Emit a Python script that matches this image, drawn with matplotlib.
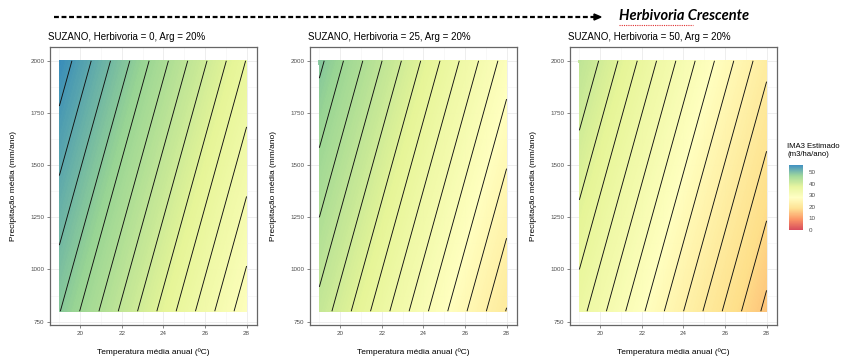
import numpy as np
import matplotlib
matplotlib.use('Agg')
import matplotlib.pyplot as plt
from matplotlib.colors import LinearSegmentedColormap
from matplotlib.lines import Line2D

plt.rcParams['font.family'] = ['Liberation Sans', 'DejaVu Sans']

# Grade lida nos cantos de cada painel (valores estimados da figura)
temperatura = [19, 28]          # ºC
precipitacao = [800, 2000]      # mm/ano
herbivoria = [0, 25, 50]
# IMA3 estimado: linhas = precipitacao, colunas = temperatura
ima3_h0 = [[48.1, 28.7], [55.3, 35.9]]
ima3_h25 = [[41.3, 21.9], [48.5, 29.1]]
ima3_h50 = [[34.8, 15.4], [42.0, 22.6]]
paineis = [ima3_h0, ima3_h25, ima3_h50]

escala_lim = [0, 56]
escala_ticks = [0, 10, 20, 30, 40, 50]
niveis_contorno = np.arange(0, 62, 2)

# paleta Spectral (7 cores, como no scale_fill_distiller)
spectral7 = ['#D53E4F', '#FC8D59', '#FEE08B', '#FFFFBF', '#E6F598', '#99D594', '#3288BD']
cmap = LinearSegmentedColormap.from_list('spec7', spectral7)

fig = plt.figure(figsize=(8.44, 3.58), dpi=100)

lefts = [50, 310, 570]
X, Y = np.meshgrid(temperatura, precipitacao)
cinza = '#4D4D4D'

for i, (l, z, h) in enumerate(zip(lefts, paineis, herbivoria)):
    ax = fig.add_axes([l / 844, 1 - 325 / 358, 207 / 844, 278 / 358])
    Z = np.array(z)
    cf = ax.contourf(X, Y, Z, levels=np.linspace(escala_lim[0], escala_lim[1], 400),
                     cmap=cmap, vmin=escala_lim[0], vmax=escala_lim[1], alpha=0.92, zorder=2)
    cf.set_edgecolor('face')
    cf.set_linewidth(0.3)
    ax.contour(X, Y, Z, levels=niveis_contorno, colors='#111111', linewidths=0.65, zorder=3)

    ax.set_xlim(18.55, 28.5)
    ax.set_ylim(734, 2066)
    ax.set_xticks([20, 22, 24, 26, 28])
    ax.set_xticks([19, 21, 23, 25, 27], minor=True)
    ax.set_yticks([750, 1000, 1250, 1500, 1750, 2000])
    ax.set_yticks([875, 1125, 1375, 1625, 1875], minor=True)
    ax.grid(True, which='major', color='#EBEBEB', lw=0.6, zorder=0)
    ax.grid(True, which='minor', color='#F3F3F3', lw=0.4, zorder=0)
    ax.set_axisbelow(True)
    ax.tick_params(axis='both', which='major', labelsize=4.5, length=2, width=0.5,
                   color='#555555', labelcolor=cinza, pad=2)
    ax.tick_params(axis='both', which='minor', length=0)
    for s in ax.spines.values():
        s.set_color('#666666')
        s.set_linewidth(0.9)

    ax.set_xlabel('Temperatura média anual (ºC)', fontsize=6, labelpad=9)
    ax.set_ylabel('Precipitação média (mm/ano)', fontsize=6, labelpad=10)
    fig.text((l - 2) / 844, 1 - 37 / 358, f'SUZANO, Herbivoria = {h}, Arg = 20%',
             fontsize=7, ha='left', va='center')

# legenda de cores
cax = fig.add_axes([789 / 844, 1 - 230 / 358, 14 / 844, 65 / 358])
sm = plt.cm.ScalarMappable(cmap=cmap, norm=plt.Normalize(*escala_lim))
cb = fig.colorbar(sm, cax=cax, ticks=escala_ticks)
cb.outline.set_visible(False)
cb.solids.set_alpha(0.92)
cax.tick_params(labelsize=4.5, length=2, color='white', labelcolor=cinza, pad=2)
fig.text(787 / 844, 1 - 151 / 358, 'IMA3 Estimado\n(m3/ha/ano)', fontsize=5.6,
         ha='left', va='center', linespacing=1.2)

# seta de herbivoria crescente
fig.add_artist(Line2D([54 / 844, 596 / 844], [1 - 17 / 358, 1 - 17 / 358],
                      color='black', lw=1.6, ls=(0, (2.2, 1.2))))
fig.add_artist(plt.Polygon([[594 / 844, 1 - 14 / 358], [601 / 844, 1 - 17 / 358],
                            [594 / 844, 1 - 20 / 358]], closed=True, color='black',
                           transform=fig.transFigure))
fig.text(619 / 844, 1 - 16 / 358, 'Herbivoria Crescente', fontsize=10.5,
         fontweight='bold', fontstyle='italic', family='Lato', ha='left', va='center')
fig.add_artist(Line2D([619 / 844, 693 / 844], [1 - 25 / 358, 1 - 25 / 358],
                      color='#E03030', lw=0.8, ls=(0, (1, 1))))

fig.savefig('out.png', dpi=100)
